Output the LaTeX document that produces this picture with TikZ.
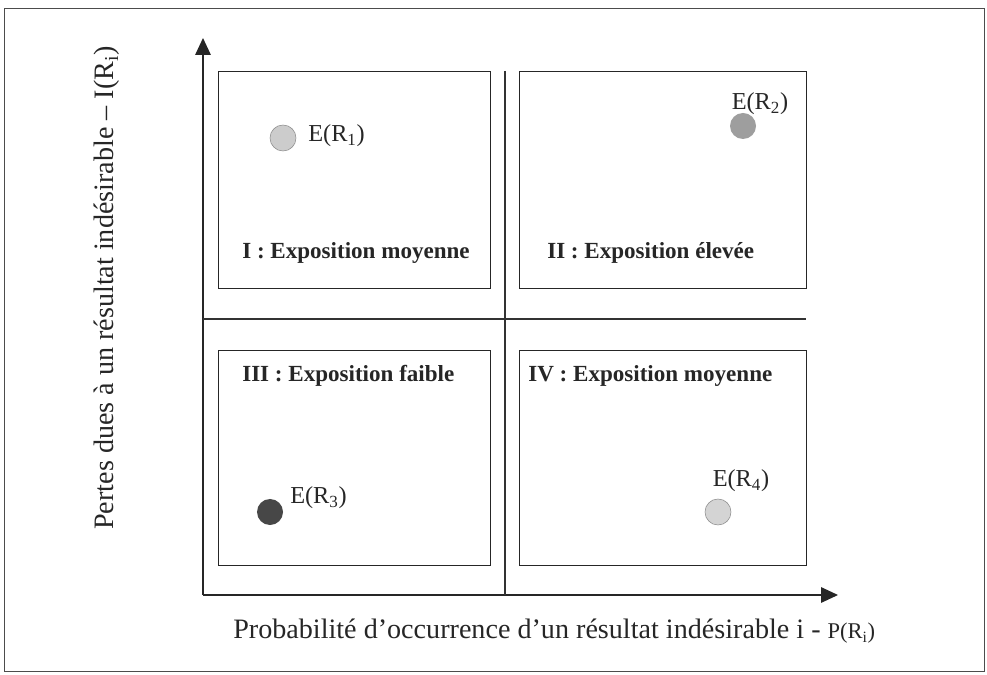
\documentclass[tikz,border=0pt]{standalone}
\usepackage{fontspec}
\setmainfont{Liberation Serif}
\usetikzlibrary{arrows.meta, positioning, calc}

\begin{document}
\begin{tikzpicture}[
      x=0.025cm, y=-0.025cm,
      quadbox/.style = {
        rectangle, draw=black!85, line width=0.9pt,
        anchor=north west, inner sep=0pt
      },
      qtitle/.style = {font=\fontsize{16.4}{20}\selectfont\bfseries, text=black!85, anchor=west, inner sep=0pt},
      dot/.style    = {circle, minimum size=0.65cm, inner sep=0pt},
      elbl/.style   = {font=\fontsize{17.3}{21}\selectfont, text=black!85, inner sep=0pt},
      axlbl/.style  = {font=\fontsize{20}{23}\selectfont, text=black!85, inner sep=0pt},
      axis/.style   = {-{Triangle[length=12pt,width=11pt]}, line width=0.9pt, color=black!85},
      divline/.style = {line width=0.8pt, color=black!80}
    ]

      % ===================== Frame =====================
      \useasboundingbox (0,0) rectangle (987,675);
      \node[draw=black!70, line width=0.8pt, anchor=north west, inner sep=0pt,
            minimum width=24.5cm, minimum height=16.575cm] (frame) at (4,8) {};

      % ===================== Axes =====================
      \coordinate (O)    at (203,595);
      \coordinate (ytop) at (203,38);
      \coordinate (xend) at (838,595);
      \draw[axis] (O) -- (ytop);
      \draw[axis] (O) -- (xend);

      % ===================== Dividers =====================
      \coordinate (vtop) at (505,71);
      \coordinate (hleft)  at (203,319);
      \coordinate (hright) at (806,319);
      \draw[divline] (vtop) -- (vtop |- O);
      \draw[divline] (hleft) -- (hright);

      % ===================== Quadrants =====================
      \node[quadbox, minimum width=6.8cm,   minimum height=5.425cm] (q1) at (218,71)  {};
      \node[quadbox, minimum width=7.175cm, minimum height=5.425cm] (q2) at (519,71)  {};
      \node[quadbox, minimum width=6.8cm,   minimum height=5.375cm] (q3) at (218,350) {};
      \node[quadbox, minimum width=7.175cm, minimum height=5.375cm] (q4) at (519,350) {};

      \node[qtitle] (t1) at (242,253) {I : Exposition moyenne};
      \node[qtitle] (t2) at (547,253) {II : Exposition élevée};
      \node[qtitle] (t3) at (242,376) {III : Exposition faible};
      \node[qtitle] (t4) at (528,376) {IV : Exposition moyenne};

      % ===================== Risks =====================
      \node[dot, draw=black!45, fill=black!20] (r1) at (283,138) {};
      \node[dot, fill=black!38]                (r2) at (743,126) {};
      \node[dot, fill=black!72]                (r3) at (270,512) {};
      \node[dot, draw=black!45, fill=black!17] (r4) at (718,512) {};

      \node[elbl, anchor=west] (e1) at (308,136) {E(R\textsubscript{1})};
      \node[elbl]              (e2) at (760,104) {E(R\textsubscript{2})};
      \node[elbl, anchor=west] (e3) at (290,498) {E(R\textsubscript{3})};
      \node[elbl]              (e4) at (741,481) {E(R\textsubscript{4})};

      % ===================== Axis labels =====================
      \node[axlbl, rotate=90] (ylab) at (107,288)
        {Pertes dues à un résultat indésirable – I(R\textsubscript{i})};
      \node[axlbl, anchor=west] (xlab) at (233,631)
        {Probabilité d’occurrence d’un résultat indésirable i - {\fontsize{16}{18}\selectfont P(R\textsubscript{i})}};

    \end{tikzpicture}
\end{document}
